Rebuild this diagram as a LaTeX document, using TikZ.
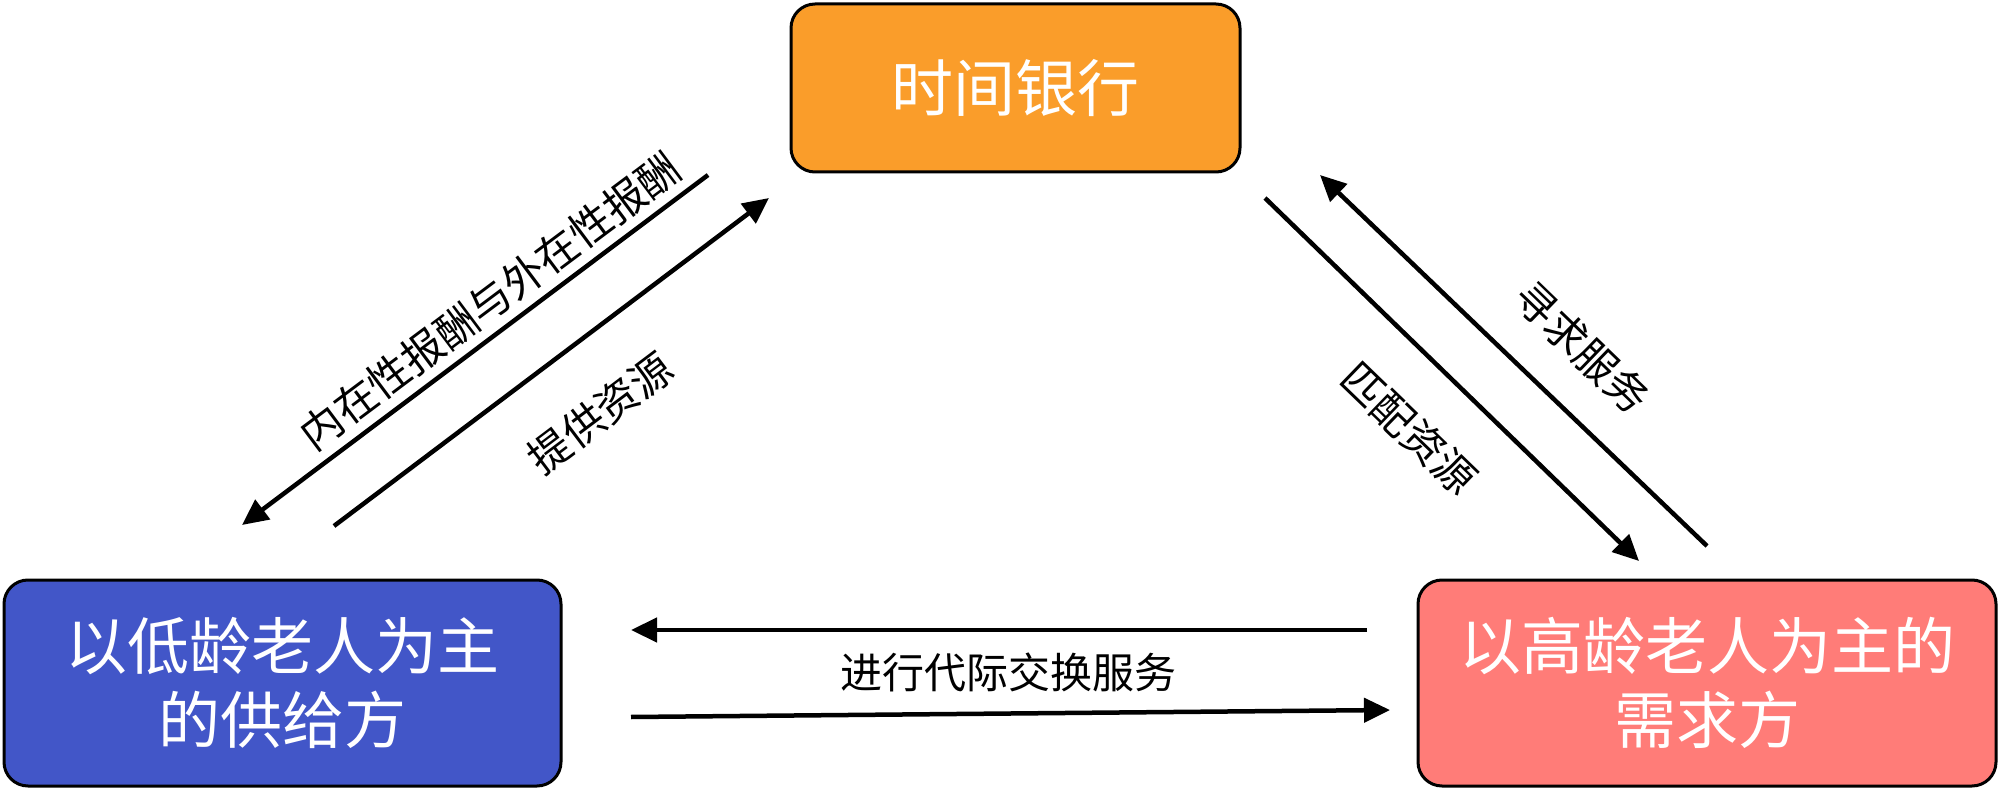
\documentclass[tikz,border=0pt]{standalone}
\usepackage{fontspec}
\newfontfamily\cjk{Noto Sans CJK SC}
\usetikzlibrary{arrows.meta}
\definecolor{obox}{RGB}{250,157,42}
\definecolor{bbox}{RGB}{66,86,200}
\definecolor{pbox}{RGB}{255,124,120}
\begin{document}
\begin{tikzpicture}[x=1pt,y=-1pt,
  box/.style={draw=black, line width=3pt, rounded corners=24pt, text=white, align=center, inner sep=0pt, font=\cjk\fontsize{62}{74}\selectfont},
  conn/.style={line width=4.5pt, -{Triangle[length=26pt,width=24pt]}},
  lab/.style={font=\cjk\fontsize{42}{48}\selectfont, inner sep=0pt, text=black}]
\useasboundingbox (0,0) rectangle (2000,791);
\node[box, fill=obox, minimum width=449pt, minimum height=168pt] (bank) at (1015.5,88) {时间银行};
\node[box, fill=bbox, minimum width=557pt, minimum height=206pt] (supply) at (282.5,683) {以低龄老人为主\\的供给方};
\node[box, fill=pbox, minimum width=578pt, minimum height=206pt] (demand) at (1707,683) {以高龄老人为主的\\需求方};

\coordinate (a1s) at (708,175);
\coordinate (a1e) at (242,525);
\coordinate (a2s) at (334,526);
\coordinate (a2e) at (769,198);
\coordinate (a3s) at (1265,198);
\coordinate (a3e) at (1639,561);
\coordinate (a4s) at (1707,546);
\coordinate (a4e) at (1320,175);
\coordinate (b1s) at (1367,630);
\coordinate (b1e) at (631,630);
\coordinate (b2s) at (631,717);
\coordinate (b2e) at (1390,710);

\draw[conn] (a1s) -- (a1e);
\draw[conn] (a2s) -- (a2e);
\draw[conn] (a3s) -- (a3e);
\draw[conn] (a4s) -- (a4e);
\draw[conn] (b1s) -- (b1e);
\draw[conn] (b2s) -- (b2e);

\node[lab, rotate=36.8] (l1) at (490,301) {内在性报酬与外在性报酬};
\node[lab, rotate=37] (l2) at (600,413) {提供资源};
\node[lab, rotate=-44] (l3) at (1409,428) {匹配资源};
\node[lab, rotate=-44] (l4) at (1582,347) {寻求服务};
\node[lab] (l5) at (1008,672) {进行代际交换服务};
\end{tikzpicture}
\end{document}
